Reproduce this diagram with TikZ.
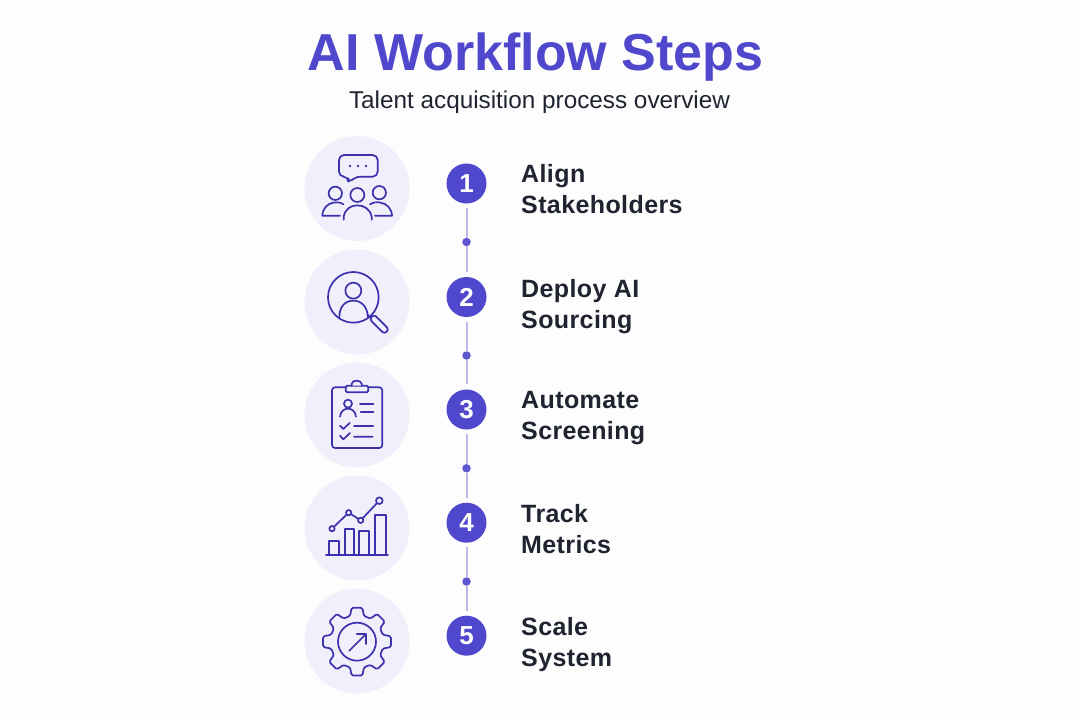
\documentclass[tikz,border=0pt]{standalone}
\usepackage{fontspec}
\setmainfont{Liberation Sans}
\newfontfamily\titlefont{Liberation Sans}
\newfontfamily\labelfont[LetterSpace=1.6]{Liberation Sans}
\definecolor{bgc}{HTML}{FDFDFE}
\definecolor{violet}{HTML}{5048CC}
\definecolor{iconc}{HTML}{3D32AE}
\definecolor{disc}{HTML}{F1EFFB}
\definecolor{ink}{HTML}{1F2430}
\definecolor{linkc}{HTML}{BDB9EC}
\definecolor{dotc}{HTML}{5F57CF}
\tikzset{
  disk/.style={circle,fill=disc,minimum size=105pt,inner sep=0pt},
  badge/.style={circle,fill=violet,minimum size=40pt,inner sep=0pt,text=white,font=\fontsize{26}{26}\selectfont\bfseries},
  knot/.style={circle,fill=dotc,minimum size=8.5pt,inner sep=0pt},
  link/.style={draw=linkc,line width=2pt},
  steplabel/.style={anchor=west,align=left,text=ink,inner sep=0pt,font=\labelfont\fontsize{25}{31}\selectfont\bfseries},
  icon/.style={draw=iconc,line width=1.7pt,line join=round,line cap=round},
  zoomed/.style={x=.33333pt,y=-.33333pt}
}
\begin{document}
\begin{tikzpicture}[x=1pt,y=-1pt]
\useasboundingbox (0,0) rectangle (1080,720);
\fill[bgc] (0,0) rectangle (1080,720);
\node[anchor=base,text=violet,inner sep=0pt,font=\titlefont\fontsize{52}{52}\selectfont\bfseries] (title) at (535.5,70) {AI Workflow Steps};
\node[anchor=base,text=ink,inner sep=0pt,font=\fontsize{24.3}{24.3}\selectfont] (subtitle) at (539.5,108) {Talent acquisition process overview};

\node[disk] (d1) at (357,188.5) {};
\node[disk] (d2) at (357,302) {};
\node[disk] (d3) at (357,415) {};
\node[disk] (d4) at (357,528) {};
\node[disk] (d5) at (357,641) {};

\node[badge] (b1) at (466.5,183.5) {1};
\node[badge] (b2) at (466.5,297) {2};
\node[badge] (b3) at (466.5,409.5) {3};
\node[badge] (b4) at (466.5,522.7) {4};
\node[badge] (b5) at (466.5,635.7) {5};

\node[knot] (k1) at (466.5,242) {};
\node[knot] (k2) at (466.5,355.5) {};
\node[knot] (k3) at (466.5,468.3) {};
\node[knot] (k4) at (466.5,581.5) {};

\foreach \a/\b/\c in {b1/k1/b2,b2/k2/b3,b3/k3/b4,b4/k4/b5}{
  \draw[link,shorten <=4.5pt] (\a) -- (\b);
  \draw[link,shorten >=5pt] (\b) -- (\c);
}

\node[steplabel] (l1) at (521,189.5) {Align\\Stakeholders};
\node[steplabel] (l2) at (521,307) {Deploy AI\\Sourcing};
\node[steplabel] (l3) at (521,418) {Automate\\Screening};
\node[steplabel] (l4) at (521,529) {Track\\Metrics};
\node[steplabel] (l5) at (521,645) {Scale\\System};

% icon 1: people and speech bubble
\begin{scope}[shift={(290,125)},zoomed]
  \draw[icon,rounded corners=5pt] (175,155) -- (147,155) -- (147,90) -- (263,90) -- (263,155) -- (197,155) -- (175,175) -- cycle;
  \fill[iconc] (180,123) circle (4) (204,123) circle (4) (228,123) circle (4);
  \draw[icon] (136,205) circle (20) (202,210) circle (21) (268,203) circle (20);
  \draw[icon] (161,284) -- (161,275) .. controls (165,252) and (183,241) .. (202,241) .. controls (222,241) and (240,252) .. (245,275) -- (245,284);
  \draw[icon] (160,238) .. controls (150,231) and (140,231) .. (130,233) .. controls (112,236) and (98,250) .. (97,272) -- (150,272);
  \draw[icon] (240,238) .. controls (250,231) and (262,231) .. (272,233) .. controls (290,236) and (305,250) .. (306,272) -- (255,272);
\end{scope}

% icon 2: search for a person
\begin{scope}[shift={(290,125)},zoomed]
  \draw[icon] (190,517) circle (76);
  \draw[icon] (190,497) circle (24);
  \draw[icon] (148,577) .. controls (148,545) and (165,527) .. (190,527) .. controls (215,527) and (232,545) .. (234,577);
  \draw[icon] (232,570) -- (245,578);
  \draw[icon,rounded corners=3pt] (252,568) -- (297,613) -- (283,627) -- (238,582) -- cycle;
\end{scope}

% icon 3: clipboard
\begin{scope}[shift={(290,355)},zoomed]
  \draw[icon,rounded corners=3pt] (126,97) rectangle (277,279);
  \draw[icon,fill=disc,rounded corners=1.5pt] (167,92) rectangle (235,112);
  \draw[icon,fill=disc] (185,92) -- (185,86) .. controls (187,74) and (213,74) .. (215,86) -- (215,92);
  \draw[icon] (174,146) circle (12);
  \draw[icon] (150,185) .. controls (152,168) and (163,161) .. (174,161) .. controls (185,161) and (196,168) .. (198,185);
  \draw[icon] (210,146) -- (250,146) (212,171) -- (250,171);
  \draw[icon] (150,212) -- (160,222) -- (179,204) (192,213) -- (250,213);
  \draw[icon] (150,242) -- (160,253) -- (180,234) (192,245) -- (248,245);
\end{scope}

% icon 4: bar chart
\begin{scope}[shift={(290,355)},zoomed]
  \draw[icon] (108,601) -- (294,601);
  \draw[icon] (116,601) -- (116,558) -- (146,558) -- (146,601);
  \draw[icon] (164,601) -- (164,523) -- (193,523) -- (193,601);
  \draw[icon] (207,601) -- (207,528) -- (237,528) -- (237,601);
  \draw[icon] (255,601) -- (255,480) -- (287,480) -- (287,601);
  \draw[icon] (126,521) -- (176,473) -- (212,496) -- (268,437);
  \draw[icon,fill=disc] (126,521) circle (8) (176,473) circle (8) (212,496) circle (8) (268,437) circle (10);
\end{scope}

% icon 5: gear with arrow
\begin{scope}[shift={(290,580)},zoomed]
  \begin{scope}[shift={(201,185)}]
    \draw[icon,rounded corners=1.5pt] (112.5:80)
      \foreach \t in {90,45,0,-45,-90,-135,-180,-225}{
        -- ({\t+15}:80) -- ({\t+9}:103) -- ({\t-9}:103) -- ({\t-15}:80)
      } -- cycle;
    \draw[icon] (0,0) circle (57);
  \end{scope}
  \draw[icon] (178,212) -- (228,162) (200,162) -- (228,162) -- (228,192);
\end{scope}
\end{tikzpicture}
\end{document}
